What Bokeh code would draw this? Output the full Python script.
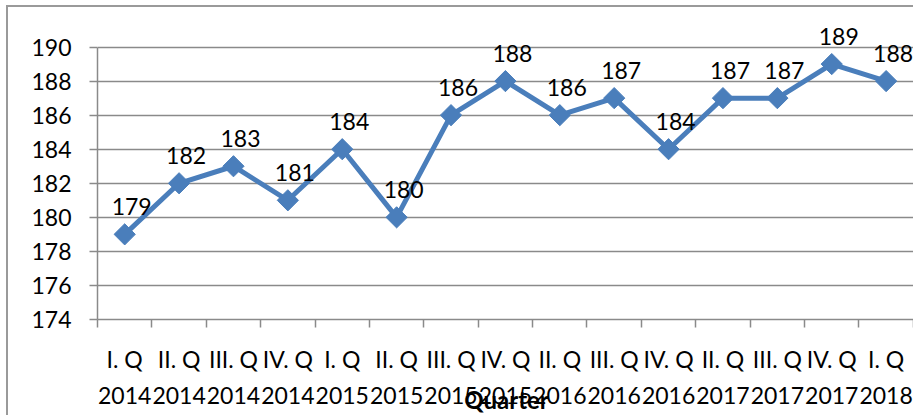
import math
from bokeh.plotting import figure
from bokeh.models import (Range1d, LinearAxis, FixedTicker, ColumnDataSource,
                          CustomJSTickFormatter, LabelSet)
from bokeh.embed import file_html
from bokeh.resources import INLINE
from bokeh.core.properties import value

quarters = ["I. Q", "II. Q", "III. Q", "IV. Q", "I. Q", "II. Q", "III. Q", "IV. Q",
            "II. Q", "III. Q", "IV. Q", "II. Q", "III. Q", "IV. Q", "I. Q"]
years = ["2014", "2014", "2014", "2014", "2015", "2015", "2015", "2015",
         "2016", "2016", "2016", "2017", "2017", "2017", "2018"]
values = [179, 182, 183, 181, 184, 180, 186, 188, 186, 187, 184, 187, 187, 189, 188]
y_ticks = [174, 176, 178, 180, 182, 184, 186, 188, 190]
x_title = "Quarter"

categories = [f"{q}\n{y}" for q, y in zip(quarters, years)]
n = len(categories)
centers = [i + 0.5 for i in range(n)]
FONT = "Lato"
BLUE = "#4a7ebb"
GRAY = "#8a8a8a"

src = ColumnDataSource(dict(x=centers, val=values, lab=[str(v) for v in values]))

# small headroom around the data area so that the data labels are not clipped
p = figure(width=907, height=410, output_backend="svg", toolbar_location=None,
           x_range=Range1d(0, n + 0.04),
           y_range=Range1d(y_ticks[0], y_ticks[-1] + 1.5),
           x_axis_location=None,
           min_border_left=89, min_border_top=14, min_border_right=0,
           min_border_bottom=95)
p.outline_line_color = None
p.background_fill_color = "white"
p.border_fill_color = "white"
p.styles = {"margin-left": "6px", "margin-top": "5px",
            "border-left": "2px solid #9a9a9a", "border-top": "2px solid #9a9a9a"}

# y axis
ya = p.yaxis[0]
ya.ticker = FixedTicker(ticks=y_ticks)
ya.bounds = (y_ticks[0], y_ticks[-1])
ya.axis_line_color = GRAY
ya.axis_line_width = 1.5
ya.major_tick_line_color = GRAY
ya.major_tick_line_width = 1.5
ya.major_tick_out = 8
ya.major_tick_in = 0
ya.minor_tick_line_color = None
ya.major_label_standoff = 18
ya.major_label_text_font = FONT
ya.major_label_text_font_size = "23px"
ya.major_label_text_color = "black"

p.ygrid.ticker = FixedTicker(ticks=y_ticks)
p.ygrid.bounds = (0, n)
p.ygrid.grid_line_color = GRAY
p.ygrid.grid_line_width = 1.5
p.xgrid.grid_line_color = None

# boundary ticks axis (no labels)
ta = LinearAxis(ticker=FixedTicker(ticks=list(range(n + 1))), bounds=(0, n),
                formatter=CustomJSTickFormatter(code="return ''"),
                major_label_text_font_size="1px", major_label_standoff=0,
                major_tick_out=8, major_tick_in=0, minor_tick_line_color=None,
                axis_line_color=GRAY, axis_line_width=1.5,
                major_tick_line_color=GRAY, major_tick_line_width=1.5)
p.add_layout(ta, "below")

# category labels axis
ca = LinearAxis(ticker=FixedTicker(ticks=centers),
                formatter=CustomJSTickFormatter(args=dict(labels=categories),
                                                code="return labels[Math.floor(tick)]"),
                major_tick_line_color=None, axis_line_color=None,
                minor_tick_line_color=None,
                major_label_standoff=11,
                major_label_text_font=FONT, major_label_text_font_size="23px",
                major_label_text_color="black",
                major_label_text_line_height=1.32,
                axis_label=x_title, axis_label_text_font=FONT,
                axis_label_text_font_size="24px", axis_label_text_font_style="bold",
                axis_label_text_color="black", axis_label_standoff=-27)
p.add_layout(ca, "below")

p.line(x="x", y="val", source=src, line_color=BLUE, line_width=5)
p.scatter(x="x", y="val", source=src, marker="square", angle=math.pi / 4,
          size=15, fill_color=BLUE, line_color=BLUE)
labels = LabelSet(x="x", y="val", text="lab", source=src, x_offset=7, y_offset=28,
                  text_align="center", text_baseline="middle", text_font=value(FONT),
                  text_font_size=value("23px"), text_color=value("black"))
p.add_layout(labels)

open("out.html", "w").write(file_html(p, INLINE))
